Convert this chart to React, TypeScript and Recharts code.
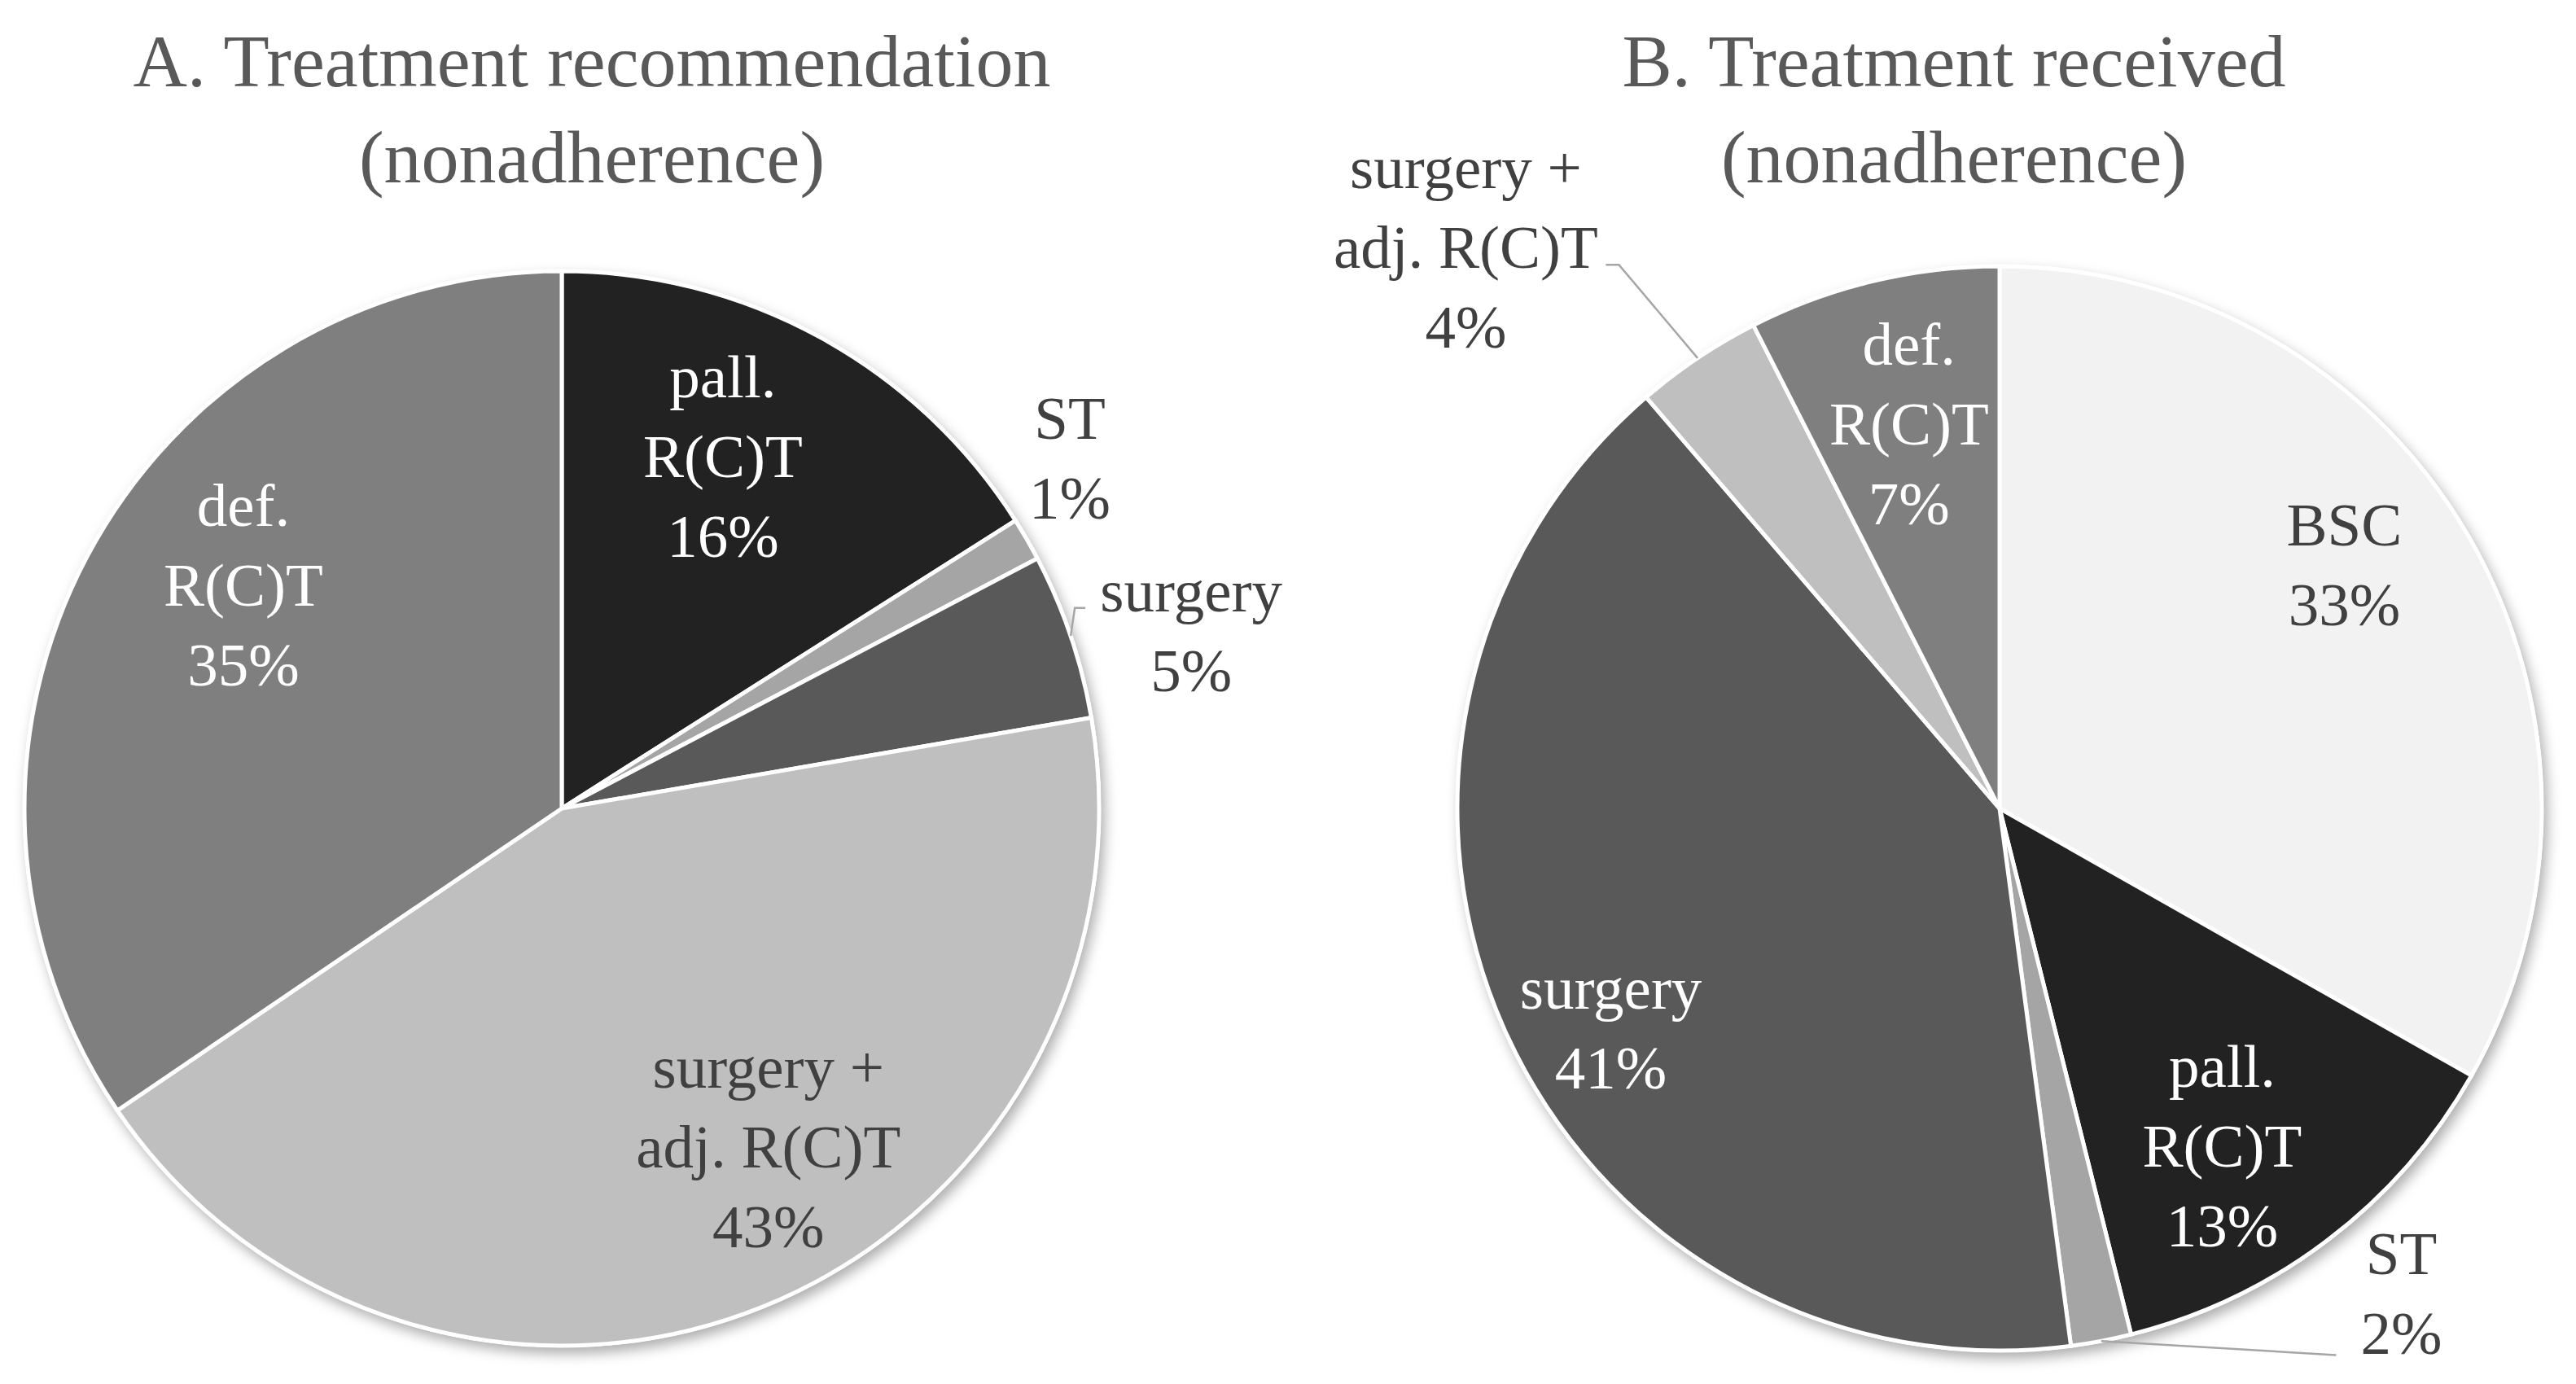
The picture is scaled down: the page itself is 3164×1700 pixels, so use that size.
import React from 'react';
import { PieChart, Pie, Cell } from 'recharts';

// ---------- data ----------
const categoriesA = ['pall. R(C)T', 'ST', 'surgery', 'surgery + adj. R(C)T', 'def. R(C)T'];
const valuesA = [16.0, 1.3, 5.0, 43.2, 34.5];
const percentLabelsA = ['16%', '1%', '5%', '43%', '35%'];
const labelLinesA = [['pall.', 'R(C)T'], ['ST'], ['surgery'], ['surgery +', 'adj. R(C)T'], ['def.', 'R(C)T']];

const categoriesB = ['BSC', 'pall. R(C)T', 'ST', 'surgery', 'surgery + adj. R(C)T', 'def. R(C)T'];
const valuesB = [33.2, 12.9, 1.8, 40.8, 3.8, 7.5];
const percentLabelsB = ['33%', '13%', '2%', '41%', '4%', '7%'];
const labelLinesB = [['BSC'], ['pall.', 'R(C)T'], ['ST'], ['surgery'], ['surgery +', 'adj. R(C)T'], ['def.', 'R(C)T']];

const titleA = ['A. Treatment recommendation', '(nonadherence)'];
const titleB = ['B. Treatment received', '(nonadherence)'];

// ---------- styles ----------
const colorsA = ['#222222', '#a5a5a5', '#595959', '#bfbfbf', '#7f7f7f'];
const colorsB = ['#f2f2f2', '#222222', '#a5a5a5', '#595959', '#bfbfbf', '#7f7f7f'];
const textColorsA = ['#ffffff', '#404040', '#404040', '#404040', '#ffffff'];
const textColorsB = ['#404040', '#ffffff', '#404040', '#ffffff', '#404040', '#ffffff'];

type Placement = {
  rf: number; // radius fraction
  angle: number; // degrees clockwise from 12 o'clock
  leader?: { elbow?: [number, number]; end: [number, number] };
};

const placementA: Placement[] = [
  { rf: 0.723, angle: 24.5 },
  { rf: 1.15, angle: 55.3 },
  { rf: 1.218, angle: 74.1, leader: { elbow: [-143, -26], end: [-130, -26] } },
  { rf: 0.736, angle: 148.5 },
  { rf: 0.725, angle: 305.2 },
];
const placementB: Placement[] = [
  { rf: 0.78, angle: 54.6 },
  { rf: 0.744, angle: 146.5 },
  { rf: 1.16, angle: 140.3, leader: { end: [-80, 77] } },
  { rf: 0.822, angle: 240.7 },
  { rf: 1.43, angle: 316.5, leader: { elbow: [188, 23], end: [172, 23] } },
  { rf: 0.731, angle: 346.8 },
];

const FONT = "'Palatino Linotype','Book Antiqua',Palatino,'Liberation Serif',serif";
const FS = 75;
const LH = 98;
const TITLE_FS = 92;
const TITLE_LH = 118;

const W = 3148;
const H = 1684;
const RADIUS_A = 660;
const RADIUS_B = 666;

const dataA = categoriesA.map((name, i) => ({ name, value: valuesA[i] }));
const dataB = categoriesB.map((name, i) => ({ name, value: valuesB[i] }));
const bgData = [{ name: 'bg', value: 1 }];

const RAD = Math.PI / 180;

const makeLabel =
  (lines: string[][], pcts: string[], textColors: string[], place: Placement[]) =>
  (props: any) => {
    const { cx, cy, outerRadius, midAngle, index } = props;
    const p = place[index];
    const r = outerRadius * p.rf;
    const x = cx + r * Math.sin(p.angle * RAD);
    const y = cy - r * Math.cos(p.angle * RAD);
    const txt = [...lines[index], pcts[index]];
    const n = txt.length;
    const y0 = y - ((n - 1) / 2) * LH + 0.36 * FS;
    let leader = null;
    if (p.leader) {
      const sx = cx + outerRadius * Math.cos(-midAngle * RAD);
      const sy = cy + outerRadius * Math.sin(-midAngle * RAD);
      const pts: [number, number][] = [[sx, sy]];
      if (p.leader.elbow) pts.push([x + p.leader.elbow[0], y + p.leader.elbow[1]]);
      pts.push([x + p.leader.end[0], y + p.leader.end[1]]);
      leader = (
        <polyline
          points={pts.map((q) => q.join(',')).join(' ')}
          fill="none"
          stroke="#a6a6a6"
          strokeWidth={2.5}
        />
      );
    }
    return (
      <g key={`lbl-${index}`}>
        {leader}
        <text
          x={x}
          y={y0}
          textAnchor="middle"
          fill={textColors[index]}
          fontFamily={FONT}
          fontSize={FS}
        >
          {txt.map((t, i) => (
            <tspan key={i} x={x} y={y0 + i * LH}>
              {t}
            </tspan>
          ))}
        </text>
      </g>
    );
  };

export default function App() {
  const cxA = 682;
  const cxB = 2448;
  const cy = 985;
  return (
    <div style={{ position: 'relative', width: W, height: H, background: '#fff' }}>
      <style>{`.shadow-pie path { filter: url(#pieShadow); }`}</style>
      <svg width={0} height={0} style={{ position: 'absolute' }}>
        <defs>
          <filter id="pieShadow" x="-10%" y="-10%" width="125%" height="125%">
            <feDropShadow dx="5" dy="8" stdDeviation="8" floodColor="#000" floodOpacity="0.32" />
          </filter>
        </defs>
      </svg>
      <PieChart width={W} height={H} margin={{ top: 0, right: 0, bottom: 0, left: 0 }}>
        <Pie
          className="shadow-pie"
          data={bgData}
          dataKey="value"
          cx={cxA}
          cy={cy}
          outerRadius={RADIUS_A + 2}
          startAngle={90}
          endAngle={-270}
          fill="#ffffff"
          stroke="none"
          isAnimationActive={false}
          label={false}
          labelLine={false}
        />
        <Pie
          className="shadow-pie"
          data={bgData}
          dataKey="value"
          cx={cxB}
          cy={cy}
          outerRadius={RADIUS_B + 2}
          startAngle={90}
          endAngle={-270}
          fill="#ffffff"
          stroke="none"
          isAnimationActive={false}
          label={false}
          labelLine={false}
        />
        <Pie
          data={dataA}
          dataKey="value"
          nameKey="name"
          cx={cxA}
          cy={cy}
          outerRadius={RADIUS_A}
          startAngle={90}
          endAngle={-270}
          stroke="#ffffff"
          strokeWidth={5}
          isAnimationActive={false}
          labelLine={false}
          label={makeLabel(labelLinesA, percentLabelsA, textColorsA, placementA)}
        >
          {dataA.map((d, i) => (
            <Cell key={d.name} fill={colorsA[i]} />
          ))}
        </Pie>
        <Pie
          data={dataB}
          dataKey="value"
          nameKey="name"
          cx={cxB}
          cy={cy}
          outerRadius={RADIUS_B}
          startAngle={90}
          endAngle={-270}
          stroke="#ffffff"
          strokeWidth={5}
          isAnimationActive={false}
          labelLine={false}
          label={makeLabel(labelLinesB, percentLabelsB, textColorsB, placementB)}
        >
          {dataB.map((d, i) => (
            <Cell key={d.name} fill={colorsB[i]} />
          ))}
        </Pie>
      </PieChart>
      <svg
        width={W}
        height={H}
        style={{ position: 'absolute', left: 0, top: 0, pointerEvents: 'none' }}
      >
        {[
          { lines: titleA, x: 719 },
          { lines: titleB, x: 2392 },
        ].map((t, k) => (
          <text key={k} textAnchor="middle" fill="#595959" fontFamily={FONT} fontSize={TITLE_FS}>
            {t.lines.map((l, i) => (
              <tspan key={i} x={t.x} y={98 + i * TITLE_LH}>
                {l}
              </tspan>
            ))}
          </text>
        ))}
      </svg>
    </div>
  );
}
